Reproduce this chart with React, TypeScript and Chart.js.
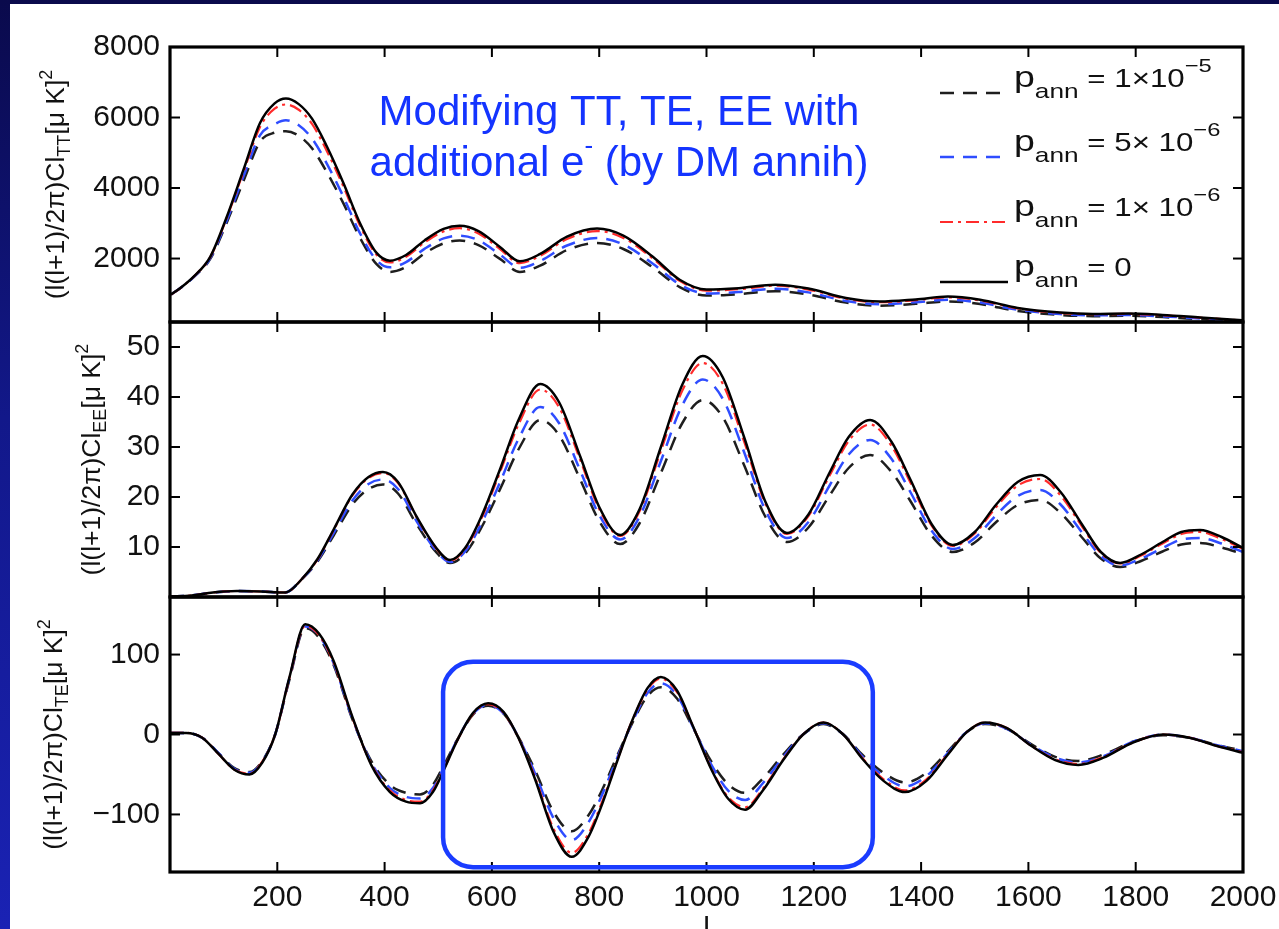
import React, { useEffect, useRef } from "react";
import { Chart, registerables } from "chart.js";

Chart.register(...registerables);

// ---------------- data ----------------
const xTicks = [200, 400, 600, 800, 1000, 1200, 1400, 1600, 1800, 2000];
const ttTicks = [2000, 4000, 6000, 8000];
const eeTicks = [10, 20, 30, 40, 50];
const teTicks = [-100, 0, 100];

const seriesNames = ["p_ann = 1x10^-5", "p_ann = 5x10^-6", "p_ann = 1x10^-6", "p_ann = 0"];

// TT panel
const lTT = [2, 20, 45, 75, 105, 137, 168, 195, 216, 240, 265, 292, 323, 354, 385, 410, 440, 475, 510, 540, 575, 615, 652, 690, 740, 796, 845, 900, 950, 1000, 1060, 1128, 1190, 1260, 1323, 1390, 1450, 1510, 1580, 1659, 1720, 1786, 1850, 1920, 2000];
const ttP1e5 = [980, 1170, 1485, 1990, 2990, 4200, 5320, 5570, 5610, 5480, 5120, 4460, 3570, 2590, 1840, 1620, 1760, 2150, 2430, 2510, 2380, 1990, 1620, 1800, 2240, 2440, 2270, 1750, 1190, 950, 990, 1075, 980, 750, 660, 715, 785, 710, 510, 400, 365, 375, 340, 280, 215];
const ttP5e6 = [980, 1170, 1490, 2010, 3050, 4330, 5500, 5810, 5920, 5780, 5400, 4700, 3760, 2720, 1950, 1750, 1900, 2280, 2570, 2650, 2520, 2110, 1740, 1930, 2370, 2580, 2400, 1855, 1265, 1010, 1050, 1140, 1040, 795, 705, 760, 830, 750, 545, 425, 390, 400, 360, 300, 225];
const ttP1e6 = [980, 1170, 1500, 2040, 3120, 4460, 5740, 6250, 6370, 6220, 5810, 5060, 4050, 2935, 2105, 1890, 2050, 2460, 2770, 2860, 2710, 2270, 1870, 2080, 2555, 2780, 2585, 2000, 1365, 1090, 1130, 1230, 1120, 860, 760, 820, 900, 810, 585, 460, 420, 430, 390, 322, 245];
const ttP0 = [980, 1170, 1500, 2050, 3150, 4520, 5850, 6400, 6540, 6380, 5960, 5190, 4150, 3010, 2160, 1940, 2100, 2520, 2840, 2930, 2780, 2330, 1920, 2130, 2620, 2850, 2650, 2050, 1400, 1120, 1160, 1260, 1150, 880, 780, 840, 920, 830, 600, 470, 430, 440, 400, 330, 250];

// EE panel
const lEE = [0, 40, 80, 125, 170, 215, 245, 275, 305, 340, 370, 397, 425, 460, 495, 522, 550, 580, 615, 650, 690, 725, 765, 800, 839, 875, 915, 955, 993, 1030, 1070, 1110, 1150, 1190, 1230, 1265, 1305, 1345, 1380, 1420, 1459, 1500, 1540, 1580, 1622, 1660, 1700, 1735, 1771, 1810, 1850, 1885, 1920, 1960, 2000];
const eeP1e5 = [0.1, 0.3, 0.9, 1.2, 1.1, 0.9, 3.5, 7.1, 12.3, 18.5, 21.6, 22.5, 20.7, 14.5, 9.1, 6.8, 8.7, 13.8, 21.5, 29.6, 35.4, 32.4, 23.4, 15.2, 10.6, 14.7, 24.8, 34.8, 39.4, 36.0, 26.4, 16.0, 11.0, 13.9, 20.4, 25.8, 28.4, 25.0, 19.2, 12.2, 9.0, 10.9, 15.0, 18.4, 19.4, 16.8, 11.9, 7.7, 6.0, 7.2, 9.1, 10.5, 10.8, 9.9, 8.6];
const eeP5e6 = [0.1, 0.3, 0.9, 1.2, 1.1, 0.9, 3.5, 7.3, 12.8, 19.3, 22.6, 23.5, 21.6, 15.1, 9.4, 7.0, 9.1, 14.6, 22.9, 31.7, 38.0, 34.8, 25.2, 16.4, 11.5, 16.0, 27.2, 38.4, 43.5, 39.7, 29.0, 17.3, 11.8, 15.0, 22.4, 28.5, 31.4, 27.6, 21.0, 13.2, 9.6, 11.8, 16.4, 20.2, 21.4, 18.5, 12.9, 8.2, 6.3, 7.7, 9.8, 11.5, 11.8, 10.7, 9.0];
const eeP1e6 = [0.1, 0.3, 0.9, 1.2, 1.1, 0.9, 3.5, 7.5, 13.4, 20.3, 23.8, 24.8, 22.8, 15.9, 9.9, 7.3, 9.6, 15.6, 24.9, 34.6, 41.5, 38.0, 27.3, 17.6, 12.2, 17.1, 29.2, 41.3, 46.8, 42.7, 31.1, 18.6, 12.6, 16.2, 24.4, 31.2, 34.5, 30.2, 22.9, 14.2, 10.2, 12.7, 18.0, 22.3, 23.6, 20.3, 14.1, 8.8, 6.7, 8.3, 10.7, 12.6, 13.0, 11.6, 9.6];
const eeP0 = [0.1, 0.3, 0.9, 1.2, 1.1, 0.9, 3.5, 7.6, 13.5, 20.5, 24, 25, 23, 16, 10, 7.4, 9.8, 16, 25.5, 35.5, 42.6, 39, 28, 18, 12.4, 17.5, 30, 42.5, 48.2, 44, 32, 19, 12.8, 16.5, 25, 32, 35.4, 31, 23.5, 14.5, 10.4, 13, 18.5, 23, 24.4, 21, 14.5, 9, 6.8, 8.5, 11, 13, 13.4, 12, 9.8];

// TE panel
const lTE = [0, 30, 60, 90, 120, 148, 172, 196, 222, 252, 278, 305, 340, 375, 410, 440, 466, 490, 510, 535, 565, 593, 622, 650, 680, 715, 749, 780, 805, 830, 860, 890, 915, 945, 975, 1010, 1040, 1072, 1105, 1143, 1180, 1218, 1255, 1290, 1330, 1370, 1410, 1450, 1485, 1519, 1560, 1605, 1650, 1693, 1740, 1795, 1851, 1900, 1950, 2000];
const teP1e5 = [2, 2, -4, -23, -42, -47, -33, 0, 67, 133, 121, 87, 19, -33, -63, -73, -75, -63, -39, -7, 25, 36, 26, -4, -44, -97, -121, -101, -70, -32, 12, 48, 59, 45, 8, -35, -62, -73, -55, -25, 0, 13, 0, -25, -48, -60, -48, -21, 3, 13, 7, -12, -28, -33, -25, -9, -1, -4, -13, -20];
const teP5e6 = [2, 2, -4, -23, -43, -48, -34, 0, 69, 135, 124, 89, 20, -35, -67, -78, -80, -67, -42, -7, 26, 37, 26, -4, -48, -105, -132, -110, -76, -35, 13, 52, 64, 49, 9, -39, -70, -82, -61, -28, 0, 14, 0, -27, -52, -65, -52, -23, 3, 14, 7, -13, -29, -35, -27, -9, 0, -4, -13, -21];
const teP1e6 = [2, 2, -4, -24, -44, -49, -34, 0, 69, 136, 124, 90, 21, -37, -70, -82, -84, -70, -44, -8, 26, 38, 27, -5, -53, -118, -148, -124, -85, -39, 15, 56, 70, 53, 10, -44, -78, -91, -68, -31, 0, 15, 0, -29, -56, -70, -56, -24, 3, 15, 8, -14, -31, -37, -28, -10, 0, -4, -14, -22];
const teP0 = [2, 2, -4, -24, -44, -50, -35, 0, 70, 138, 126, 92, 22, -38, -72, -84, -86, -72, -45, -8, 27, 39, 28, -5, -55, -122, -153, -128, -88, -40, 15, 58, 72, 55, 10, -45, -80, -94, -70, -32, 0, 15, 0, -30, -58, -72, -58, -25, 3, 15, 8, -14, -32, -38, -29, -10, 0, -4, -14, -23];

// highlighted region (data coordinates in the TE panel): l range and value range
const boxL = [509, 1310];
const boxV = [91, -166];

// ---------------- styles ----------------
const FONT = '"Liberation Sans", Arial, Helvetica, sans-serif';
const styles = [
  { color: "#1e1e1e", dash: [14, 9], width: 2.5, order: 3 },
  { color: "#2f4dff", dash: [14, 9], width: 2.5, order: 2 },
  { color: "#ff2b2b", dash: [13, 5, 3, 5], width: 2.2, order: 1 },
  { color: "#000000", dash: [] as number[], width: 2.5, order: 0 },
];

const panels = [
  { id: "yTT", l: lTT, series: [ttP1e5, ttP5e6, ttP1e6, ttP0] },
  { id: "yEE", l: lEE, series: [eeP1e5, eeP5e6, eeP1e6, eeP0] },
  { id: "yTE", l: lTE, series: [teP1e5, teP5e6, teP1e6, teP0] },
];

type Part = [string, number, number];

function richWidth(ctx: CanvasRenderingContext2D, parts: Part[]) {
  let w = 0;
  for (const [t, s] of parts) {
    ctx.font = `${s}px ${FONT}`;
    w += ctx.measureText(t).width;
  }
  return w;
}
function drawRich(ctx: CanvasRenderingContext2D, parts: Part[], x: number, y: number, sx = 1) {
  ctx.save();
  ctx.translate(x, y);
  ctx.scale(sx, 1);
  let cx = 0;
  ctx.textAlign = "left";
  ctx.textBaseline = "alphabetic";
  for (const [t, s, dy] of parts) {
    ctx.font = `${s}px ${FONT}`;
    ctx.fillText(t, cx, dy);
    cx += ctx.measureText(t).width;
  }
  ctx.restore();
}

const yTitles: { id: string; sub: string; bx: number }[] = [
  { id: "yTT", sub: "TT", bx: 64 },
  { id: "yEE", sub: "EE", bx: 100 },
  { id: "yTE", sub: "TE", bx: 62 },
];

const legendRows: { y: number; val: Part[] }[] = [
  { y: 93, val: [[" = 1\u00d710", 25, 0], ["\u22125", 19, -15]] },
  { y: 157, val: [[" = 5\u00d7 10", 25, 0], ["\u22126", 19, -15]] },
  { y: 222, val: [[" = 1\u00d7 10", 25, 0], ["\u22126", 19, -15]] },
  { y: 282, val: [[" = 0", 25, 0]] },
];

const decorPlugin = {
  id: "decor",
  afterDatasetsDraw(chart: any) {
    const ctx: CanvasRenderingContext2D = chart.ctx;
    const xs = chart.scales.x;
    const ys = panels.map((p) => chart.scales[p.id]);
    ctx.save();
    const line = (x1: number, y1: number, x2: number, y2: number) => {
      ctx.beginPath();
      ctx.moveTo(x1, y1);
      ctx.lineTo(x2, y2);
      ctx.stroke();
    };
    // inward ticks
    ctx.strokeStyle = "#000";
    ctx.lineWidth = 2;
    ctx.setLineDash([]);
    for (const s of ys) {
      for (const t of s.ticks) {
        const py = s.getPixelForValue(t.value);
        line(xs.left, py, xs.left + 10, py);
        line(xs.right, py, xs.right - 10, py);
      }
      for (const t of xs.ticks) {
        const px = xs.getPixelForValue(t.value);
        line(px, s.top, px, s.top + 10);
        line(px, s.bottom, px, s.bottom - 10);
      }
    }
    // panel boxes
    ctx.lineWidth = 3.2;
    for (const s of ys) {
      ctx.strokeRect(xs.left, s.top, xs.right - xs.left, s.bottom - s.top);
    }
    // y titles (rotated)
    ctx.fillStyle = "#111";
    for (const t of yTitles) {
      const s = chart.scales[t.id];
      const parts: Part[] = [
        ["(l(l+1)/2\u03c0)Cl", 26.5, 0],
        [t.sub, 18, 6],
        ["[\u03bc K]", 26.5, 0],
        ["2", 18, -12],
      ];
      const w = richWidth(ctx, parts);
      ctx.save();
      ctx.translate(t.bx, (s.top + s.bottom) / 2);
      ctx.rotate(-Math.PI / 2);
      drawRich(ctx, parts, -w / 2, 0);
      ctx.restore();
    }
    // x title
    ctx.font = `30px ${FONT}`;
    ctx.textAlign = "center";
    ctx.textBaseline = "alphabetic";
    ctx.fillText("l", (xs.left + xs.right) / 2, 938);

    // legend
    for (let i = 0; i < legendRows.length; i++) {
      const r = legendRows[i];
      const st = styles[i];
      ctx.strokeStyle = st.color;
      ctx.lineWidth = st.width;
      ctx.setLineDash(st.dash);
      line(940, r.y, 1008, r.y);
      ctx.setLineDash([]);
      ctx.fillStyle = "#111";
      drawRich(ctx, [["p", 30, 0], ["ann", 21, 11], ...r.val], 1014, r.y - 6, 1.25);
    }

    // annotation title
    ctx.fillStyle = "#1434ff";
    const l1: Part[] = [["Modifying TT, TE, EE with", 42, 0]];
    const l2: Part[] = [["additional e", 42, 0], ["-", 26, -22], [" (by DM annih)", 42, 0]];
    const cx = 619;
    drawRich(ctx, l1, cx - richWidth(ctx, l1) / 2, 125);
    drawRich(ctx, l2, cx - richWidth(ctx, l2) / 2, 176);

    // highlighted rounded box in TE panel
    const te = chart.scales.yTE;
    const bx1 = xs.getPixelForValue(boxL[0]);
    const bx2 = xs.getPixelForValue(boxL[1]);
    const by1 = te.getPixelForValue(boxV[0]);
    const by2 = te.getPixelForValue(boxV[1]);
    ctx.strokeStyle = "#1a3cff";
    ctx.lineWidth = 4.5;
    ctx.beginPath();
    (ctx as any).roundRect(bx1, by1, bx2 - bx1, by2 - by1, 30);
    ctx.stroke();
    ctx.restore();
  },
};

function yScale(min: number, max: number, ticks: number[], minus = false) {
  return {
    type: "linear" as const,
    position: "left" as const,
    stack: "panels",
    stackWeight: 1,
    min,
    max,
    grid: { display: false, drawTicks: false },
    border: { display: false },
    afterBuildTicks: (s: any) => {
      s.ticks = ticks.map((v) => ({ value: v }));
    },
    afterFit: (s: any) => {
      s.width = 170;
      s.paddingTop = 0;
      s.paddingBottom = 0;
    },
    ticks: {
      padding: 10,
      color: "#111",
      autoSkip: false,
      font: { family: FONT, size: 30 },
      callback: (v: any) => (minus && v < 0 ? "\u2212" + Math.abs(v) : String(v)),
    },
  };
}

export default function App() {
  const ref = useRef<HTMLCanvasElement>(null);
  useEffect(() => {
    const datasets: any[] = [];
    panels.forEach((p) => {
      p.series.forEach((vals, i) => {
        const st = styles[i];
        datasets.push({
          label: seriesNames[i],
          data: p.l.map((l, k) => ({ x: l, y: vals[k] })),
          yAxisID: p.id,
          borderColor: st.color,
          borderDash: st.dash,
          borderWidth: st.width,
          order: st.order,
          pointRadius: 0,
          fill: false,
          cubicInterpolationMode: "monotone",
        });
      });
    });
    const chart = new Chart(ref.current!, {
      type: "line",
      data: { datasets },
      plugins: [decorPlugin],
      options: {
        responsive: false,
        animation: false,
        devicePixelRatio: 1,
        layout: { padding: { top: 47, right: 36, bottom: 0, left: 0 } },
        plugins: { legend: { display: false }, tooltip: { enabled: false } },
        scales: {
          x: {
            type: "linear",
            position: "bottom",
            min: 0,
            max: 2000,
            grid: { display: false, drawTicks: false },
            border: { display: false },
            afterBuildTicks: (s: any) => {
              s.ticks = xTicks.map((v) => ({ value: v }));
            },
            afterFit: (s: any) => {
              s.height = 57;
              s.paddingLeft = 0;
              s.paddingRight = 0;
            },
            ticks: {
              padding: 8,
              color: "#111",
              font: { family: FONT, size: 30 },
              maxRotation: 0,
              autoSkip: false,
              callback: (v: any) => String(v),
            },
          },
          yTE: yScale(-172, 172, teTicks, true),
          yEE: yScale(0, 55, eeTicks),
          yTT: yScale(200, 8000, ttTicks),
        } as any,
      },
    } as any);
    return () => chart.destroy();
  }, []);
  return (
    <div
      style={{
        position: "fixed",
        left: 0,
        top: 0,
        width: 1279,
        height: 929,
        overflow: "hidden",
        background: "linear-gradient(180deg, #0a0a4c 0%, #12188a 45%, #1a22b4 100%)",
      }}
    >
      <div style={{ position: "absolute", left: 10, top: 4, right: 0, bottom: 0, background: "#fff" }} />
      <canvas ref={ref} width={1279} height={929} style={{ position: "absolute", left: 0, top: 0, width: 1279, height: 929 }} />
    </div>
  );
}
